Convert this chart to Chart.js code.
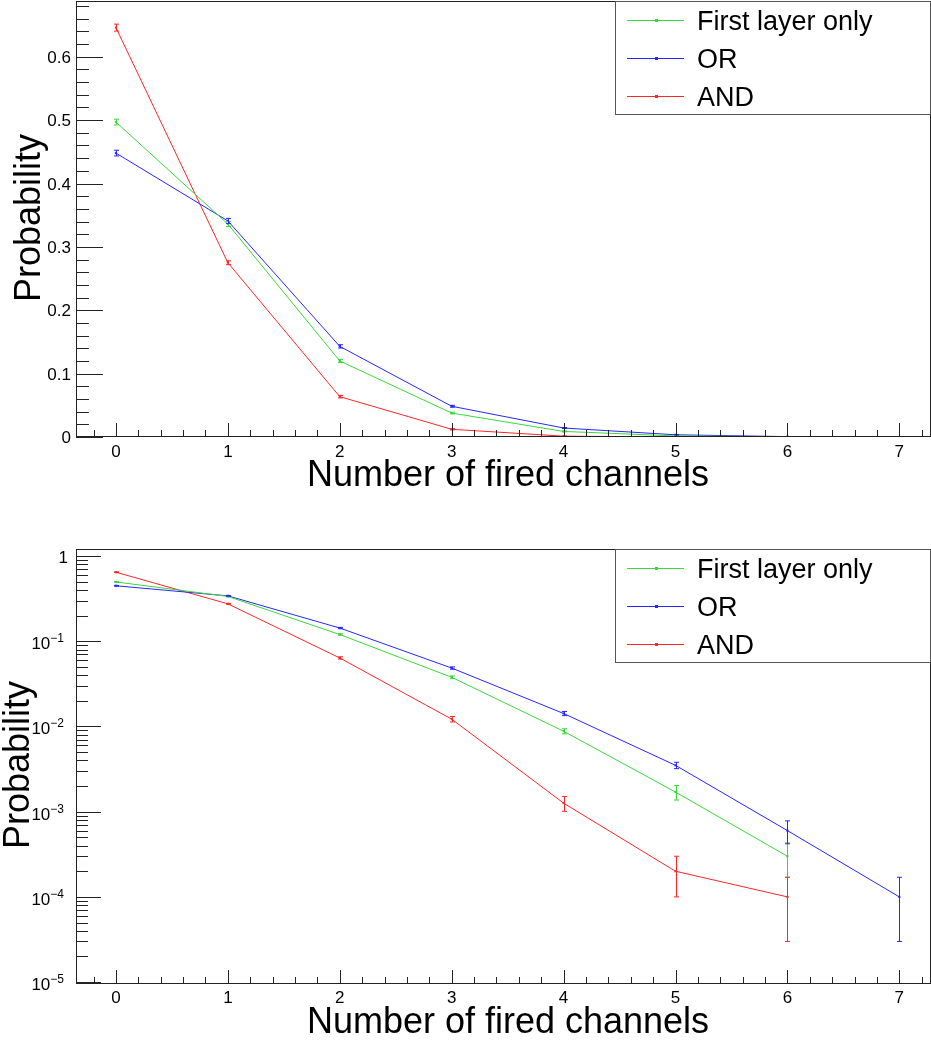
<!DOCTYPE html>
<html>
<head>
<meta charset="UTF-8">
<title>Number of fired channels</title>
<script src="https://cdn.jsdelivr.net/npm/chart.js"></script>
<style>
  body { margin: 0; background: #fff; }
  .panel { position: absolute; left: 0; width: 931px; }
  #top { top: 0; height: 500px; }
  #bottom { top: 520px; height: 521px; }
</style>
</head>
<body>
<div class="panel" id="top"><canvas id="linChart"></canvas></div>
<div class="panel" id="bottom"><canvas id="logChart"></canvas></div>

<script>
  // values
  const channels = [0, 1, 2, 3, 4, 5, 6, 7];
  const seriesNames = ['First layer only', 'OR', 'AND'];
  const firstLayer = [0.497, 0.336, 0.120, 0.0378, 0.0088, 0.0017, 0.0003];
  const firstLayerErr = [0.0045, 0.004, 0.0025, 0.0014, 0.0006, 0.00033, 0.00013];
  const orProb = [0.448, 0.341, 0.143, 0.0485, 0.0142, 0.0035, 0.0006, 0.0001];
  const orErr = [0.0045, 0.004, 0.0026, 0.0015, 0.0008, 0.0003, 0.00018, 0.00007];
  const andProb = [0.646, 0.275, 0.0637, 0.0122, 0.00126, 0.0002, 0.0001];
  const andErr = [0.0055, 0.003, 0.002, 0.0009, 0.00025, 0.0001, 0.00007];

  const xTicks = [0, 1, 2, 3, 4, 5, 6, 7];
  const linYTicks = [0, 0.1, 0.2, 0.3, 0.4, 0.5, 0.6];
  const linYLabels = ['0', '0.1', '0.2', '0.3', '0.4', '0.5', '0.6'];
  const logYTicks = [1e-5, 1e-4, 1e-3, 1e-2, 1e-1, 1];
  const logYLabels = [['10', '\u22125'], ['10', '\u22124'], ['10', '\u22123'], ['10', '\u22122'], ['10', '\u22121'], ['1', '']];

  const colors = ['#3ad83a', '#2626ff', '#ff2626'];
  const FONT = "'Liberation Sans', Arial, sans-serif";

  function makeDatasets() {
    const vals = [firstLayer, orProb, andProb];
    const errs = [firstLayerErr, orErr, andErr];
    return vals.map((v, s) => ({
      label: seriesNames[s],
      data: v.map((y, i) => ({ x: channels[i], y: y })),
      err: errs[s],
      borderColor: colors[s],
      backgroundColor: colors[s],
      borderWidth: 1,
      pointRadius: 1.5,
      pointHoverRadius: 1.5,
      pointStyle: 'rect',
      pointBorderWidth: 0,
      tension: 0,
      fill: false
    }));
  }

  function seg(ctx, x1, y1, x2, y2) {
    ctx.beginPath();
    ctx.moveTo(x1, y1);
    ctx.lineTo(x2, y2);
    ctx.stroke();
  }

  // ROOT-like frame, inner ticks, labels, legend and error bars
  const rootAxes = {
    id: 'rootAxes',
    afterDatasetsDraw(chart) {
      const ctx = chart.ctx, a = chart.chartArea, xs = chart.scales.x, ys = chart.scales.y;
      ctx.save();
      ctx.beginPath();
      ctx.rect(a.left, a.top, a.right - a.left, a.bottom - a.top);
      ctx.clip();
      ctx.lineWidth = 1;
      chart.data.datasets.forEach(ds => {
        ctx.strokeStyle = ds.borderColor;
        ds.data.forEach((p, i) => {
          const e = ds.err[i];
          const px = Math.round(xs.getPixelForValue(p.x)) + 0.5;
          const y1 = ys.getPixelForValue(p.y + e);
          const y2 = ys.getPixelForValue(p.y - e);
          seg(ctx, px, y1, px, y2);
          seg(ctx, px - 2.5, y1, px + 2.5, y1);
          seg(ctx, px - 2.5, y2, px + 2.5, y2);
        });
      });
      ctx.restore();
    },
    afterDraw(chart, args, o) {
      const ctx = chart.ctx, a = chart.chartArea, xs = chart.scales.x, ys = chart.scales.y;
      ctx.save();
      ctx.strokeStyle = '#222';
      ctx.lineWidth = 1;
      ctx.strokeRect(a.left + 0.5, a.top + 0.5, a.right - a.left - 1, a.bottom - a.top - 1);

      // x ticks, every 0.2
      for (let k = Math.ceil(xs.min * 5); k <= Math.floor(xs.max * 5); k++) {
        const px = Math.round(xs.getPixelForValue(k / 5)) + 0.5;
        seg(ctx, px, a.bottom, px, a.bottom - (k % 5 === 0 ? 14 : 7));
      }
      // y ticks
      if (o.log) {
        for (let e = -6; e <= 0; e++) {
          for (let m = 1; m <= 9; m++) {
            const v = m * Math.pow(10, e);
            if (v < ys.min || v > ys.max) continue;
            const py = Math.round(ys.getPixelForValue(v)) + 0.5;
            seg(ctx, a.left, py, a.left + (m === 1 ? 25 : 12), py);
          }
        }
      } else {
        for (let k = 0; k <= Math.floor(ys.max * 50 + 1e-6); k++) {
          const py = Math.round(ys.getPixelForValue(k / 50)) + 0.5;
          seg(ctx, a.left, py, a.left + (k % 5 === 0 ? 27 : 13), py);
        }
      }

      // tick labels
      ctx.fillStyle = '#000';
      ctx.textBaseline = 'alphabetic';
      ctx.font = '17px ' + FONT;
      ctx.textAlign = 'center';
      xTicks.forEach(v => {
        ctx.fillText(String(v), xs.getPixelForValue(v), o.xLabelBase);
      });
      if (o.log) {
        logYTicks.forEach((v, i) => {
          const py = ys.getPixelForValue(v);
          const [base, exp] = logYLabels[i];
          if (!exp) {
            ctx.font = '17px ' + FONT;
            ctx.textAlign = 'right';
            ctx.fillText(base, 68, py + 7);
            return;
          }
          ctx.font = '12px ' + FONT;
          ctx.textAlign = 'right';
          ctx.fillText(exp, 64, py + 1);
          const ew = ctx.measureText(exp).width;
          ctx.font = '17px ' + FONT;
          ctx.fillText(base, 64 - ew, py + 8);
        });
      } else {
        ctx.textAlign = 'right';
        linYTicks.forEach((v, i) => {
          ctx.fillText(linYLabels[i], 71, ys.getPixelForValue(v) + 6);
        });
      }

      // axis titles
      ctx.font = '36px ' + FONT;
      ctx.textAlign = 'center';
      ctx.fillText('Number of fired channels', 508, o.xTitleBase);
      ctx.save();
      ctx.translate(o.yTitleBase, o.yTitleMid);
      ctx.rotate(-Math.PI / 2);
      ctx.fillText('Probability', 0, 0);
      ctx.restore();

      // legend box
      const lx = 615, ly = a.top, lw = chart.width - lx, lh = 114;
      ctx.fillStyle = '#fff';
      ctx.fillRect(lx, ly, lw, lh);
      ctx.strokeStyle = '#555';
      ctx.strokeRect(lx + 0.5, ly + 0.5, lw - 1, lh - 1);
      ctx.font = '27px ' + FONT;
      ctx.textAlign = 'left';
      chart.data.datasets.forEach((ds, i) => {
        const cy = ly + 19 + i * 38;
        ctx.strokeStyle = ds.borderColor;
        seg(ctx, 627, cy + 0.5, 684, cy + 0.5);
        ctx.fillStyle = ds.borderColor;
        ctx.fillRect(655, cy - 1, 3, 3);
        ctx.fillStyle = '#000';
        ctx.fillText(ds.label, 697, cy + 10);
      });
      ctx.restore();
    }
  };

  function makeChart(id, yCfg, pad, axisCfg) {
    return new Chart(document.getElementById(id), {
      type: 'line',
      data: { datasets: makeDatasets() },
      options: {
        responsive: true,
        maintainAspectRatio: false,
        animation: false,
        layout: { padding: pad, autoPadding: false },
        scales: {
          x: { type: 'linear', min: -0.357, max: 7.283, display: false },
          y: Object.assign({ display: false }, yCfg)
        },
        plugins: {
          legend: { display: false },
          tooltip: { enabled: false },
          rootAxes: axisCfg
        }
      },
      plugins: [rootAxes]
    });
  }

  makeChart('linChart',
    { type: 'linear', min: 0, max: 0.688 },
    { left: 76, right: 0, top: 1, bottom: 63 },
    { log: false, xLabelBase: 457, xTitleBase: 486, yTitleBase: 40, yTitleMid: 218 });

  makeChart('logChart',
    { type: 'logarithmic', min: 9.5e-6, max: 1.21 },
    { left: 76, right: 0, top: 29, bottom: 57 },
    { log: true, xLabelBase: 483, xTitleBase: 513, yTitleBase: 29, yTitleMid: 245 });
</script>
</body>
</html>
